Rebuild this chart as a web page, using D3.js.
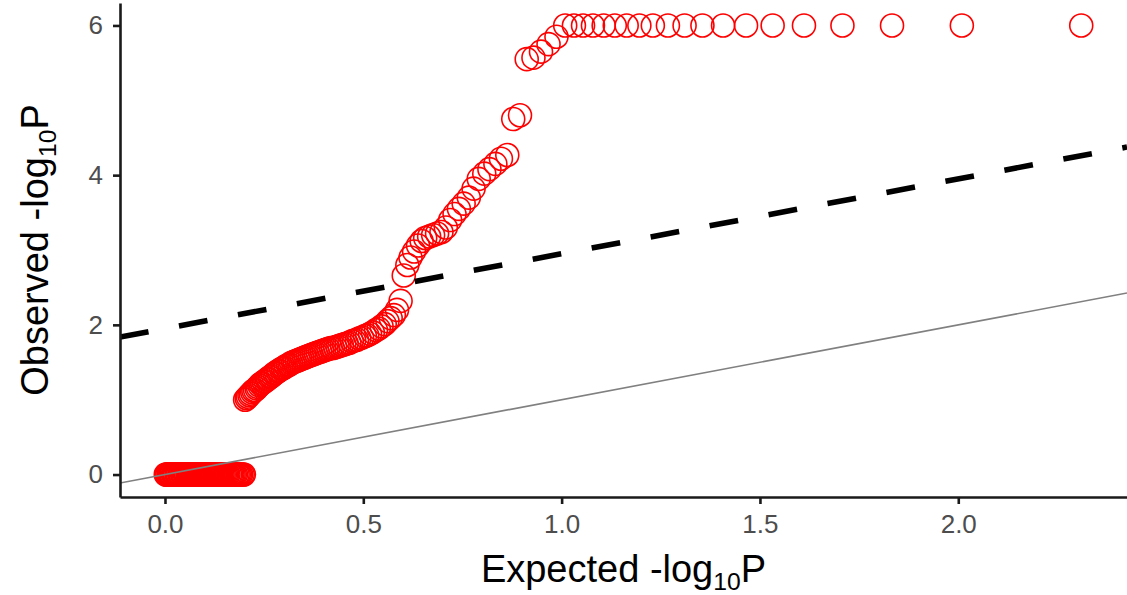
<!DOCTYPE html>
<html>
<head>
<meta charset="utf-8">
<script src="https://cdn.jsdelivr.net/npm/d3@7"></script>
<style>
  body { margin: 0; background: #fff; }
  svg text { font-family: "Liberation Sans", Arial, Helvetica, sans-serif; }
</style>
</head>
<body>
<svg id="chart"></svg>
<script>
// expected -log10(P), largest first
const expectedP = [
  2.310, 2.009, 1.833, 1.708, 1.611, 1.532, 1.465, 1.407, 1.355, 1.310,
  1.268, 1.230, 1.196, 1.164, 1.134, 1.106, 1.079, 1.054, 1.031, 1.009,
  0.987, 0.967, 0.948, 0.929, 0.912, 0.895, 0.878, 0.863, 0.847, 0.833,
  0.818, 0.805, 0.791, 0.778, 0.766, 0.753, 0.741, 0.730, 0.719, 0.708,
  0.697, 0.686, 0.676, 0.666, 0.656, 0.647, 0.638, 0.628, 0.619, 0.611,
  0.602, 0.594, 0.585, 0.577, 0.569, 0.561, 0.554, 0.546, 0.539, 0.532,
  0.524, 0.517, 0.510, 0.504, 0.497, 0.490, 0.484, 0.477, 0.471, 0.465,
  0.458, 0.452, 0.446, 0.440, 0.435, 0.429, 0.423, 0.418, 0.412, 0.407,
  0.401, 0.396, 0.391, 0.385, 0.380, 0.375, 0.370, 0.365, 0.360, 0.355,
  0.351, 0.346, 0.341, 0.337, 0.332, 0.327, 0.323, 0.318, 0.314, 0.310,
  0.305, 0.301, 0.297, 0.293, 0.288, 0.284, 0.280, 0.276, 0.272, 0.268,
  0.264, 0.260, 0.257, 0.253, 0.249, 0.245, 0.241, 0.238, 0.234, 0.231,
  0.227, 0.223, 0.220, 0.216, 0.213, 0.209, 0.206, 0.202, 0.199, 0.196,
  0.192, 0.189, 0.186, 0.183, 0.179, 0.176, 0.173, 0.170, 0.167, 0.164,
  0.160, 0.157, 0.154, 0.151, 0.148, 0.145, 0.142, 0.139, 0.136, 0.134,
  0.131, 0.128, 0.125, 0.122, 0.119, 0.117, 0.114, 0.111, 0.108, 0.106,
  0.103, 0.100, 0.097, 0.095, 0.092, 0.090, 0.087, 0.084, 0.082, 0.079,
  0.077, 0.074, 0.072, 0.069, 0.067, 0.064, 0.062, 0.059, 0.057, 0.054,
  0.052, 0.050, 0.047, 0.045, 0.043, 0.040, 0.038, 0.036, 0.033, 0.031,
  0.029, 0.026, 0.024, 0.022, 0.020, 0.017, 0.015, 0.013, 0.011, 0.009,
  0.006, 0.004, 0.002
];

// observed -log10(P), same order
const observedP = [
  6, 6, 6, 6, 6, 6, 6, 6, 6, 6,
  6, 6, 6, 6, 6, 6, 6, 6, 6, 6,
  5.85, 5.75, 5.65, 5.57, 5.55, 4.80, 4.75, 4.27, 4.22, 4.15,
  4.08, 4.02, 3.95, 3.82, 3.70, 3.62, 3.55, 3.48, 3.40, 3.30,
  3.24, 3.22, 3.20, 3.18, 3.16, 3.12, 3.06, 2.98, 2.90, 2.80,
  2.66, 2.32, 2.20, 2.13, 2.09, 2.05, 2.01, 1.98, 1.95, 1.93,
  1.90, 1.88, 1.86, 1.85, 1.83, 1.82, 1.80, 1.79, 1.78, 1.76,
  1.75, 1.74, 1.73, 1.72, 1.71, 1.70, 1.69, 1.69, 1.68, 1.67,
  1.66, 1.65, 1.64, 1.63, 1.62, 1.61, 1.60, 1.59, 1.58, 1.57,
  1.56, 1.55, 1.54, 1.53, 1.52, 1.51, 1.50, 1.49, 1.47, 1.46,
  1.45, 1.43, 1.42, 1.41, 1.39, 1.38, 1.36, 1.35, 1.33, 1.31,
  1.30, 1.28, 1.27, 1.25, 1.24, 1.22, 1.21, 1.19, 1.17, 1.15,
  1.13, 1.12, 1.10, 1.08, 1.06, 1.04, 1.02, 1.00, 0, 0,
  0, 0, 0, 0, 0, 0, 0, 0, 0, 0,
  0, 0, 0, 0, 0, 0, 0, 0, 0, 0,
  0, 0, 0, 0, 0, 0, 0, 0, 0, 0,
  0, 0, 0, 0, 0, 0, 0, 0, 0, 0,
  0, 0, 0, 0, 0, 0, 0, 0, 0, 0,
  0, 0, 0, 0, 0, 0, 0, 0, 0, 0,
  0, 0, 0, 0, 0, 0, 0, 0, 0, 0,
  0, 0, 0
];

const xTicks = [0, 0.5, 1, 1.5, 2];
const yTicks = [0, 2, 4, 6];
// reference lines: y = slope * x + intercept
const nullLine = { slope: 1, intercept: 0 };
const threshLine = { slope: 1, intercept: 1.95 };

const W = 1127, H = 595;
const margin = { top: 3, right: 0, bottom: 98, left: 120 };

const svg = d3.select("#chart")
    .attr("width", W)
    .attr("height", H);

// ggplot style 5% expansion
function expand(ext) {
    const pad = (ext[1] - ext[0]) * 0.05;
    return [ext[0] - pad, ext[1] + pad];
}

const x = d3.scaleLinear()
    .domain(expand(d3.extent(expectedP)))
    .range([margin.left, W - margin.right]);

const y = d3.scaleLinear()
    .domain(expand(d3.extent(observedP)))
    .range([H - margin.bottom, margin.top]);

svg.append("defs").append("clipPath")
    .attr("id", "panel")
    .append("rect")
    .attr("x", margin.left)
    .attr("y", margin.top)
    .attr("width", W - margin.left - margin.right)
    .attr("height", H - margin.top - margin.bottom);

const plot = svg.append("g").attr("clip-path", "url(#panel)");

const pts = expectedP.map((e, i) => ({ e: e, o: observedP[i] }));

plot.selectAll("circle.pt")
    .data(pts.slice().reverse())
    .enter().append("circle")
    .attr("class", "pt")
    .attr("cx", d => x(d.e))
    .attr("cy", d => y(d.o))
    .attr("r", 11.5)
    .attr("fill", "none")
    .attr("stroke", "#ff0000")
    .attr("stroke-width", 1.6);

const xd = x.domain();

plot.append("line")
    .attr("x1", x(xd[0]))
    .attr("y1", y(nullLine.slope * xd[0] + nullLine.intercept))
    .attr("x2", x(xd[1]))
    .attr("y2", y(nullLine.slope * xd[1] + nullLine.intercept))
    .attr("stroke", "#808080")
    .attr("stroke-width", 1.6);

plot.append("line")
    .attr("x1", x(xd[0]))
    .attr("y1", y(threshLine.slope * xd[0] + threshLine.intercept))
    .attr("x2", x(xd[1]))
    .attr("y2", y(threshLine.slope * xd[1] + threshLine.intercept))
    .attr("stroke", "#000")
    .attr("stroke-width", 5.5)
    .attr("stroke-dasharray", "29,31");

// axes
const xAxis = svg.append("g")
    .attr("transform", `translate(0,${H - margin.bottom})`)
    .call(d3.axisBottom(x).tickValues(xTicks).tickFormat(d3.format(".1f"))
        .tickSize(7).tickSizeOuter(0).tickPadding(11));

const yAxis = svg.append("g")
    .attr("transform", `translate(${margin.left},0)`)
    .call(d3.axisLeft(y).tickValues(yTicks).tickFormat(d3.format("d"))
        .tickSize(7).tickSizeOuter(0).tickPadding(10));

[xAxis, yAxis].forEach(g => {
    g.select(".domain").attr("stroke", "#1a1a1a").attr("stroke-width", 2.6);
    g.selectAll(".tick line").attr("stroke", "#1a1a1a").attr("stroke-width", 2.6);
    g.selectAll(".tick text")
        .attr("fill", "#4d4d4d")
        .style("font-size", "26px");
});

// axis titles with subscript 10
function title(sel, pre) {
    sel.append("tspan").text(pre + "-log");
    sel.append("tspan").attr("dy", 8).style("font-size", "0.65em").text("10");
    sel.append("tspan").attr("dy", -8).text("P");
}

const xTitle = svg.append("text")
    .attr("x", (margin.left + W - margin.right) / 2)
    .attr("y", 582)
    .attr("text-anchor", "middle")
    .attr("fill", "#000")
    .style("font-size", "38px");
title(xTitle, "Expected ");

const yTitle = svg.append("text")
    .attr("transform", `translate(48,${(margin.top + H - margin.bottom) / 2}) rotate(-90)`)
    .attr("text-anchor", "middle")
    .attr("fill", "#000")
    .style("font-size", "38px");
title(yTitle, "Observed ");
</script>
</body>
</html>
